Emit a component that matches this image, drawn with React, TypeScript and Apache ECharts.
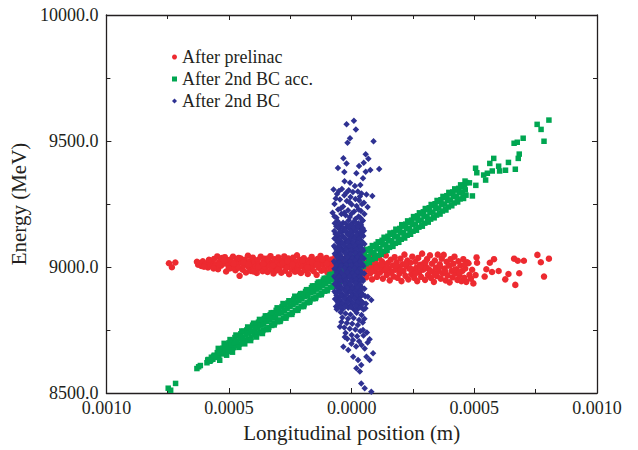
import React, { useEffect, useRef } from "react";
import * as echarts from "echarts";

const SERIES_NAMES = ["After prelinac", "After 2nd BC acc.", "After 2nd BC"];
const X_AXIS_NAME = "Longitudinal position (m)";
const Y_AXIS_NAME = "Energy (MeV)";
const X_RANGE = [-0.001, 0.001];
const Y_RANGE = [8500, 10000];
const X_STEP = 0.0005;
const Y_STEP = 500;
const UM = 1e-6; // positions below are in micrometres

// [position (µm), energy (MeV)]
const prelinac: number[][] = [
  [-745, 9015], [-733, 8999], [-719, 9018],
  [-631, 9021], [-626, 9009], [-621, 9016], [-613, 9004], [-607, 9023], [-600, 9008], [-594, 9014], [-586, 8998], [-579, 9027], [-572, 9017], [-566, 9003], [-561, 9032], [-553, 9011], [-548, 9042], [-545, 8991], [-539, 9021], [-533, 9005], [-528, 9036], [-523, 9013], [-517, 9039], [-512, 8982], [-508, 9024], [-503, 9006], [-497, 9029], [-494, 8995], [-488, 9017], [-484, 9041], [-479, 9002], [-474, 8987], [-470, 9025], [-466, 9012], [-460, 8997], [-457, 8965], [-453, 9034], [-448, 9018], [-444, 8989], [-440, 9006], [-436, 9029], [-431, 8978], [-427, 9013], [-423, 9045], [-419, 8999], [-415, 9023], [-411, 8984], [-407, 9008], [-403, 9037], [-399, 8993], [-395, 9019], [-391, 9002], [-387, 8976], [-383, 9028], [-379, 9011], [-375, 8994], [-371, 9041], [-367, 9005], [-363, 8983], [-359, 9022], [-355, 9033], [-351, 8997], [-347, 9014], [-343, 8980], [-339, 9026], [-335, 9004], [-331, 9043], [-327, 8989], [-323, 9017], [-319, 8974], [-315, 9031], [-311, 9001], [-307, 8986], [-303, 9021], [-299, 9038], [-295, 8994], [-291, 9011], [-287, 8977], [-283, 9026], [-279, 9006], [-275, 9042], [-271, 8985], [-267, 9015], [-263, 8999], [-259, 9034], [-255, 8971], [-251, 9013], [-247, 9027], [-243, 8990], [-239, 9037], [-235, 9003], [-231, 8981], [-227, 9020], [-223, 9046], [-219, 8995], [-215, 9010], [-211, 9029], [-207, 8976], [-203, 9015], [-199, 9000], [-195, 9035], [-191, 8987], [-187, 9023], [-183, 9006], [-179, 8972], [-175, 9027], [-171, 9016], [-167, 8992], [-163, 9040], [-159, 9003], [-155, 8983], [-151, 9025], [-147, 9010], [-143, 8969], [-139, 9032], [-135, 8997], [-131, 9019], [-127, 9044], [-123, 8985], [-119, 9009], [-115, 9026], [-111, 8991], [-107, 9016], [-103, 9036], [-99, 8978], [-95, 9004], [-91, 9021], [-87, 8989], [-83, 9030], [-79, 9011], [-75, 8982], [-71, 9018], [-67, 9039], [-63, 8995], [-59, 9013], [-55, 8985], [-51, 9025], [-47, 9004], [-43, 8973], [-39, 9029], [-35, 9017], [-31, 8991], [-27, 9007], [-23, 9035], [-19, 8979], [-15, 9012], [-11, 9002], [-7, 8987], [-3, 9021],
  [-602, 9001], [-582, 9029], [-563, 8994], [-541, 9009], [-521, 9027], [-501, 8994], [-481, 9013], [-461, 9036], [-441, 9019], [-421, 9011], [-401, 8982], [-381, 9001], [-361, 9013], [-341, 9034], [-321, 9007], [-301, 8989], [-281, 9016], [-261, 9023], [-241, 9009], [-221, 8984], [-201, 9026], [-181, 8999], [-161, 9019], [-141, 9011], [-121, 9031], [-101, 9013], [-81, 8997], [-61, 9031], [-41, 8989], [-21, 9021],
  [3, 8995], [7, 9016], [11, 8977], [15, 9031], [19, 8989], [23, 9009], [27, 8964], [31, 9023], [35, 8997], [39, 8971], [43, 9013], [47, 9036], [51, 8984], [55, 9004], [59, 8959], [63, 9021], [67, 8991], [71, 9041], [75, 8974], [79, 9011], [83, 8951], [87, 8999], [91, 9029], [95, 8982], [99, 9014], [103, 8961], [107, 9003], [111, 9037], [115, 8977], [119, 8995], [123, 9023], [127, 8954], [131, 9009], [135, 8986], [139, 9046], [143, 8969], [147, 9016], [151, 8995], [155, 8947], [159, 9029], [163, 8981], [167, 9006], [171, 8962], [175, 9039], [179, 8989], [183, 9019], [187, 8957], [191, 9001], [195, 8974], [199, 9033], [203, 8944], [207, 9011], [211, 8984], [215, 9049], [219, 8965], [223, 9003], [227, 9026], [231, 8951], [235, 8993], [239, 9017], [243, 8971], [247, 9041], [251, 8987], [255, 8957], [259, 9021], [263, 8997], [267, 8944], [271, 9036], [275, 8979], [279, 9009], [283, 8961], [287, 9053], [291, 8989], [295, 9016], [299, 8949], [303, 9001], [307, 9031], [311, 8969], [315, 8991], [319, 9046], [323, 8957], [327, 9013], [331, 8981], [335, 8941], [339, 9026], [343, 8997], [347, 8964], [351, 9049], [355, 8984], [359, 9011], [363, 8954], [367, 9033], [371, 8974], [375, 9048], [379, 8994], [383, 8947], [387, 9021], [391, 8967], [395, 9006], [399, 8939], [403, 9031], [407, 8984], [411, 8959], [415, 9013], [419, 9041], [423, 8974], [427, 8991], [431, 8949], [435, 9023], [439, 8967], [443, 9006], [447, 8944], [451, 8984], [455, 9031], [459, 8957], [463, 8994], [467, 8941], [471, 9019], [476, 9015], [480, 8969], [486, 8954], [491, 8989],
  [20, 9006], [40, 8989], [60, 9011], [80, 8984], [100, 8999], [120, 9009], [140, 8991], [160, 8977], [180, 9006], [200, 8989], [220, 9013], [240, 8994], [260, 8974], [280, 9001], [300, 9019], [320, 8984], [340, 8971], [360, 9001], [380, 8984], [400, 9006], [420, 8989], [440, 8979], [460, 9009],
  [496, 8935], [505, 8968], [509, 9038], [511, 9017], [542, 8962], [549, 8991], [572, 8980], [563, 9017], [580, 9031], [599, 8984], [626, 8951], [639, 8972], [667, 8929], [683, 8975], [662, 9033], [677, 9025], [702, 9025], [757, 9048], [771, 9019], [784, 8962], [804, 9033],
];

const bcAcc: number[][] = [
  [-748, 8519], [-738, 8511], [-718, 8538],
  [-631, 8597], [-624, 8604], [-617, 8609],
  [-590, 8620], [-584, 8633], [-578, 8626], [-572, 8642], [-566, 8634], [-560, 8650], [-554, 8641], [-548, 8660], [-542, 8647], [-536, 8668], [-530, 8655], [-524, 8678], [-518, 8658], [-512, 8690], [-506, 8665], [-500, 8699], [-494, 8670], [-488, 8706], [-482, 8680], [-476, 8720], [-470, 8688], [-464, 8727], [-458, 8694], [-452, 8735], [-446, 8700], [-440, 8745], [-434, 8708], [-428, 8750], [-422, 8713], [-416, 8758], [-410, 8720], [-404, 8769], [-398, 8731], [-392, 8772], [-386, 8736], [-380, 8781], [-374, 8741], [-368, 8790], [-362, 8748], [-356, 8796], [-350, 8752], [-344, 8806], [-338, 8760], [-332, 8811], [-326, 8768], [-320, 8819], [-314, 8778], [-308, 8828], [-302, 8783], [-296, 8834], [-290, 8790], [-284, 8843], [-278, 8798], [-272, 8850], [-266, 8806], [-260, 8857], [-254, 8812], [-248, 8866], [-242, 8820], [-236, 8872], [-230, 8828], [-224, 8881], [-218, 8836], [-212, 8888], [-206, 8843], [-200, 8895], [-194, 8850], [-188, 8903], [-182, 8858], [-176, 8910], [-170, 8866], [-164, 8918], [-158, 8874], [-152, 8925], [-146, 8881], [-140, 8934], [-134, 8889], [-128, 8940], [-122, 8897], [-116, 8948], [-110, 8904], [-104, 8956], [-98, 8912], [-92, 8963], [-86, 8920], [-80, 8971], [-74, 8928], [-68, 8978], [-62, 8935], [-56, 8986], [-50, 8943], [-44, 8993], [-38, 8950], [-32, 9001], [-26, 8958], [-20, 9008], [-14, 8966], [-8, 9016], [-2, 8974],
  [-587, 8631], [-575, 8630], [-563, 8646], [-551, 8645], [-539, 8661], [-527, 8662], [-515, 8676], [-503, 8683], [-491, 8690], [-479, 8699], [-467, 8705], [-455, 8716], [-443, 8721], [-431, 8731], [-419, 8738], [-407, 8744], [-395, 8753], [-383, 8758], [-371, 8769], [-359, 8773], [-347, 8784], [-335, 8789], [-323, 8798], [-311, 8804], [-299, 8814], [-287, 8820], [-275, 8828], [-263, 8835], [-251, 8844], [-239, 8851], [-227, 8858], [-215, 8866], [-203, 8873], [-191, 8882], [-179, 8888], [-167, 8897], [-155, 8903], [-143, 8912], [-131, 8919], [-119, 8927], [-107, 8934], [-95, 8943], [-83, 8949], [-71, 8958], [-59, 8965], [-47, 8972], [-35, 8981], [-23, 8987], [-11, 8995],
  [-544, 8677], [-538, 8630], [-520, 8697], [-510, 8650], [-496, 8712], [-486, 8662], [-472, 8730], [-460, 8681], [-448, 8746], [-436, 8695], [-424, 8762], [-412, 8708], [-400, 8777], [-388, 8722], [-376, 8792], [-364, 8736], [-352, 8806], [-340, 8752], [-328, 8818], [-316, 8770], [-304, 8838], [-292, 8784], [-280, 8855], [-268, 8797], [-256, 8866], [-244, 8812], [-232, 8884], [-220, 8828], [-208, 8894], [-196, 8843], [-184, 8910], [-172, 8860], [-160, 8925], [-148, 8875], [-136, 8940], [-124, 8890], [-112, 8955], [-100, 8906], [-88, 8970], [-76, 8922], [-64, 8985], [-52, 8937], [-40, 9000], [-28, 8952], [-16, 9015],
  [4, 9020], [10, 8985], [16, 9032], [22, 8992], [28, 9040], [34, 8999], [40, 9049], [46, 9006], [52, 9057], [58, 9013], [64, 9066], [70, 9022], [76, 9073], [82, 9030], [88, 9081], [94, 9038], [100, 9090], [106, 9046], [112, 9097], [118, 9054], [124, 9106], [130, 9062], [136, 9113], [142, 9070], [148, 9122], [154, 9078], [160, 9130], [166, 9086], [172, 9137], [178, 9094], [184, 9146], [190, 9102], [196, 9153], [202, 9110], [208, 9162], [214, 9118], [220, 9170], [226, 9126], [232, 9177], [238, 9134], [244, 9186], [250, 9142], [256, 9194], [262, 9150], [268, 9203], [274, 9158], [280, 9211], [286, 9166], [292, 9219], [298, 9174], [304, 9227], [310, 9182], [316, 9235], [322, 9190], [328, 9243], [334, 9198], [340, 9251], [346, 9206], [352, 9259], [358, 9214], [364, 9267], [370, 9222], [376, 9275], [382, 9230], [388, 9283], [394, 9238], [400, 9291], [406, 9246], [412, 9298], [418, 9254], [424, 9305], [430, 9262], [436, 9312], [442, 9270], [448, 9318], [454, 9278], [460, 9325], [466, 9285],
  [7, 9009], [19, 9010], [31, 9025], [43, 9026], [55, 9040], [67, 9042], [79, 9056], [91, 9058], [103, 9072], [115, 9073], [127, 9088], [139, 9090], [151, 9104], [163, 9105], [175, 9120], [187, 9122], [199, 9136], [211, 9137], [223, 9152], [235, 9153], [247, 9168], [259, 9170], [271, 9184], [283, 9186], [295, 9200], [307, 9201], [319, 9216], [331, 9218], [343, 9232], [355, 9234], [367, 9248], [379, 9250], [391, 9264], [403, 9266], [415, 9280], [427, 9281], [439, 9295], [451, 9297], [463, 9306],
  [12, 9040], [24, 8984], [36, 9055], [48, 9002], [60, 9070], [72, 9018], [84, 9085], [96, 9035], [108, 9100], [120, 9050], [132, 9118], [144, 9066], [156, 9135], [168, 9082], [180, 9150], [192, 9098], [204, 9168], [216, 9115], [228, 9183], [240, 9130], [252, 9200], [264, 9146], [276, 9215], [288, 9162], [300, 9232], [312, 9178], [324, 9248], [336, 9195], [348, 9264], [360, 9210], [372, 9280], [384, 9226], [396, 9296], [408, 9243], [420, 9310], [432, 9258], [444, 9326], [456, 9272], [468, 9335],
  [462, 9341], [480, 9334], [492, 9282], [505, 9392], [510, 9374], [506, 9324], [546, 9345], [538, 9365], [553, 9372], [563, 9411], [573, 9381], [579, 9431], [599, 9400], [603, 9381], [627, 9384], [639, 9415], [667, 9388], [679, 9431], [683, 9448], [662, 9491], [675, 9495], [699, 9511], [784, 9499], [772, 9546], [756, 9566], [804, 9583],
];

const bc: number[][] = [
  [9, 9580], [-21, 9566], [17, 9546], [-7, 9511], [-17, 9493], [89, 9499], [57, 9447], [68, 9430], [-34, 9432], [-21, 9411], [49, 9414], [30, 9401], [-56, 9393], [-30, 9377], [112, 9389], [76, 9385], [19, 9372], [57, 9378], [46, 9352], [-29, 9340], [-7, 9334], [-74, 9308], [13, 9321], [35, 9325], [84, 9282],
  [-40, 9310], [-12, 9305], [5, 9298], [25, 9300], [-60, 9290], [-30, 9285], [40, 9292], [60, 9288], [-5, 9278], [15, 9270], [-48, 9268], [-20, 9262], [30, 9265], [50, 9255], [-70, 9250], [0, 9248], [-35, 9240], [20, 9242], [65, 9238], [-55, 9228], [-15, 9225], [10, 9220], [38, 9222], [-78, 9215], [-42, 9210], [-25, 9205], [28, 9200], [52, 9210], [-62, 9195], [-8, 9198], [15, 9190], [45, 9185],
  [-52, 9302], [-22, 9295], [33, 9280], [-65, 9272], [-10, 9258], [42, 9250], [-45, 9232], [28, 9228], [-30, 9215], [0, 9212], [-70, 9200], [35, 9195],
  [-58, 9183], [-35, 9176], [-12, 9186], [8, 9179], [27, 9174], [44, 9184],
  [-63, 9162], [-44, 9168], [-20, 9161], [-2, 9170], [18, 9163], [38, 9167],
  [-52, 9153], [-30, 9146], [-8, 9152], [14, 9148], [33, 9155], [50, 9144],
  [-66, 9131], [-41, 9138], [-18, 9133], [4, 9137], [24, 9130], [42, 9139],
  [-55, 9122], [-33, 9117], [-10, 9124], [10, 9119], [30, 9116], [47, 9123],
  [-62, 9108], [-45, 9101], [-22, 9106], [-1, 9102], [20, 9109], [39, 9104],
  [-50, 9087], [-28, 9093], [-6, 9088], [15, 9092], [34, 9085], [52, 9091],
  [-67, 9077], [-40, 9072], [-16, 9078], [5, 9073], [25, 9079], [44, 9071],
  [-57, 9058], [-35, 9063], [-12, 9057], [9, 9062], [29, 9059], [46, 9064],
  [-63, 9047], [-43, 9042], [-21, 9048], [0, 9043], [19, 9046], [40, 9041],
  [-53, 9028], [-31, 9033], [-9, 9027], [13, 9032], [32, 9029], [49, 9034],
  [-68, 9017], [-39, 9012], [-17, 9018], [6, 9013], [23, 9016], [43, 9011],
  [-56, 8998], [-34, 9003], [-11, 8997], [10, 9002], [28, 8999], [47, 9004],
  [-61, 8987], [-46, 8982], [-23, 8988], [-3, 8983], [18, 8986], [37, 8981],
  [-51, 8968], [-29, 8973], [-7, 8967], [14, 8972], [33, 8969], [51, 8974],
  [-66, 8957], [-42, 8952], [-19, 8958], [3, 8953], [22, 8956], [44, 8951],
  [-58, 8938], [-36, 8943], [-13, 8937], [8, 8942], [27, 8939], [46, 8944],
  [-62, 8927], [-44, 8922], [-24, 8928], [-2, 8923], [17, 8926], [39, 8921],
  [-52, 8908], [-30, 8913], [-8, 8907], [12, 8912], [31, 8909], [52, 8914],
  [-65, 8897], [-40, 8892], [-18, 8898], [5, 8893], [26, 8896], [45, 8891],
  [-55, 8878], [-33, 8883], [-10, 8877], [9, 8882], [30, 8879], [55, 8884],
  [-60, 8867], [-43, 8862], [-20, 8868], [0, 8863], [21, 8866], [42, 8861],
  [-50, 8848], [-28, 8853], [-6, 8847], [15, 8852], [35, 8849], [58, 8854],
  [-57, 8837], [-37, 8832], [-14, 8838], [7, 8833], [28, 8836], [48, 8831],
  [-69, 9174], [-47, 9170], [-24, 9173], [-3, 9169], [17, 9175], [36, 9171],
  [-57, 9158], [-36, 9155], [-13, 9160], [7, 9156], [27, 9159], [45, 9154],
  [-71, 9143], [-47, 9140], [-25, 9145], [-4, 9141], [16, 9144], [34, 9139],
  [-60, 9129], [-38, 9125], [-15, 9128], [3, 9124], [22, 9127], [41, 9130],
  [-70, 9113], [-49, 9110], [-27, 9114], [-6, 9111], [12, 9115], [31, 9112],
  [-58, 9098], [-38, 9095], [-15, 9099], [6, 9096], [25, 9094], [44, 9098],
  [-72, 9083], [-51, 9080], [-29, 9084], [-8, 9081], [13, 9085], [33, 9080],
  [-62, 9068], [-45, 9065], [-23, 9069], [-2, 9066], [18, 9070], [37, 9067],
  [-69, 9053], [-48, 9050], [-26, 9054], [-4, 9051], [16, 9055], [34, 9050],
  [-58, 9038], [-40, 9035], [-18, 9039], [3, 9036], [24, 9040], [41, 9037],
  [-72, 9023], [-50, 9020], [-28, 9024], [-6, 9021], [15, 9025], [33, 9020],
  [-62, 9008], [-44, 9005], [-22, 9009], [-1, 9006], [19, 9010], [38, 9007],
  [-70, 8993], [-51, 8990], [-29, 8994], [-8, 8991], [12, 8995], [31, 8990],
  [-60, 8978], [-40, 8975], [-18, 8979], [3, 8976], [24, 8980], [42, 8977],
  [-71, 8963], [-52, 8960], [-30, 8964], [-9, 8961], [13, 8965], [33, 8960],
  [-61, 8948], [-47, 8945], [-24, 8949], [-3, 8946], [17, 8950], [37, 8947],
  [-69, 8933], [-50, 8930], [-28, 8934], [-6, 8931], [15, 8935], [34, 8930],
  [-58, 8918], [-40, 8915], [-19, 8919], [3, 8916], [22, 8920], [43, 8917],
  [-70, 8903], [-49, 8900], [-27, 8904], [-5, 8901], [16, 8905], [38, 8900],
  [-62, 8888], [-45, 8885], [-22, 8889], [-1, 8886], [19, 8890], [40, 8887],
  [-68, 8873], [-49, 8870], [-30, 8874], [-9, 8871], [12, 8875], [33, 8870],
  [-56, 8858], [-38, 8855], [-17, 8859], [5, 8856], [25, 8860], [47, 8857],
  [-64, 8843], [-45, 8840], [-25, 8844], [-3, 8841], [18, 8845], [38, 8840],
  [-45, 8820], [-25, 8815], [-5, 8812], [20, 8818], [40, 8810], [-38, 8800], [-15, 8795], [8, 8798], [30, 8790], [52, 8795], [-42, 8782], [-20, 8778], [2, 8775], [25, 8770], [45, 8780], [-30, 8760], [-8, 8755], [15, 8752], [35, 8745], [62, 8740], [-25, 8738], [0, 8730], [22, 8725], [48, 8728], [-18, 8715], [5, 8710], [30, 8705], [-1, 8695], [40, 8690], [18, 8685], [-28, 8722], [65, 8700],
  [-61, 8832], [56, 8836], [15, 8827], [80, 8869], [66, 8882], [-48, 8763], [46, 8750], [73, 8713], [-34, 8684], [-14, 8671], [53, 8677], [87, 8658], [6, 8644], [60, 8644], [26, 8631], [73, 8631], [39, 8611], [19, 8598], [33, 8585], [39, 8538], [53, 8519], [80, 8505],
];

const COLORS = ["#ed2a30", "#00a651", "#2e3192"];
const SYMBOLS = ["circle", "rect", "diamond"];
const SIZES = [6.5, 5.5, 6.5];
const INK = "#231f20";
const FONT = "Liberation Serif";

const toMetres = (pts: number[][]) => pts.map(([x, y]) => [x * UM, y]);

export default function App() {
  const ref = useRef<HTMLDivElement>(null);
  useEffect(() => {
    if (!ref.current) return;
    const chart = echarts.init(ref.current, null, { renderer: "svg" });
    const axisCommon = {
      axisLine: { show: true, onZero: false, lineStyle: { color: INK, width: 1.3 } },
      axisTick: { show: true, inside: true, length: 5, lineStyle: { color: INK, width: 1 } },
      minorTick: { show: true, splitNumber: 2, length: 4, lineStyle: { color: INK, width: 1 } },
      splitLine: { show: false },
      minorSplitLine: { show: false },
    };
    const datasets = [prelinac, bcAcc, bc];
    chart.setOption({
      animation: false,
      textStyle: { fontFamily: FONT },
      grid: { left: 100, top: 15, right: 41, bottom: 57 },
      legend: {
        orient: "vertical",
        left: 172,
        top: 46,
        padding: 0,
        itemWidth: 5,
        itemHeight: 5,
        itemGap: 0,
        textStyle: { fontSize: 18, color: INK, fontFamily: FONT, lineHeight: 22 },
        data: SERIES_NAMES,
      },
      xAxis: [
        {
          type: "value",
          position: "bottom",
          min: X_RANGE[0],
          max: X_RANGE[1],
          interval: X_STEP,
          name: X_AXIS_NAME,
          nameLocation: "middle",
          nameGap: 29,
          nameTextStyle: { fontSize: 21, color: INK, fontFamily: FONT },
          axisLabel: {
            fontSize: 18,
            color: INK,
            fontFamily: FONT,
            margin: 6,
            showMinLabel: true,
            showMaxLabel: true,
            formatter: (v: number) => Math.abs(v).toFixed(4),
          },
          ...axisCommon,
        },
        {
          type: "value",
          position: "top",
          min: X_RANGE[0],
          max: X_RANGE[1],
          interval: X_STEP,
          axisLabel: { show: false },
          ...axisCommon,
        },
      ],
      yAxis: [
        {
          type: "value",
          position: "left",
          min: Y_RANGE[0],
          max: Y_RANGE[1],
          interval: Y_STEP,
          name: Y_AXIS_NAME,
          nameLocation: "middle",
          nameGap: 68,
          nameRotate: 90,
          nameTextStyle: { fontSize: 21, color: INK, fontFamily: FONT },
          axisLabel: {
            fontSize: 18,
            color: INK,
            fontFamily: FONT,
            margin: 8,
            showMinLabel: true,
            showMaxLabel: true,
            formatter: (v: number) => v.toFixed(1),
          },
          ...axisCommon,
        },
        {
          type: "value",
          position: "right",
          min: Y_RANGE[0],
          max: Y_RANGE[1],
          interval: Y_STEP,
          axisLabel: { show: false },
          ...axisCommon,
        },
      ],
      series: SERIES_NAMES.map((name, i) => ({
        name,
        type: "scatter",
        symbol: SYMBOLS[i],
        symbolSize: SIZES[i],
        itemStyle: { color: COLORS[i], opacity: 1 },
        data: toMetres(datasets[i]),
        z: 2 + i,
        emphasis: { disabled: true },
      })),
    });
    return () => chart.dispose();
  }, []);
  return (
    <div
      ref={ref}
      style={{ position: "fixed", left: 0, top: 0, width: 638, height: 450, background: "#fff" }}
    />
  );
}
